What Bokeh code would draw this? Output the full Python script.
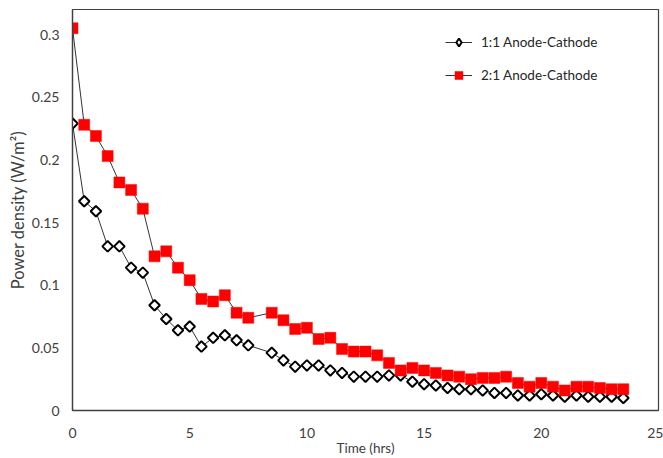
from bokeh.plotting import figure
from bokeh.models import Range1d, FixedTicker, Legend, LegendItem
from bokeh.embed import file_html
from bokeh.resources import INLINE

# ---- data ----
time_hrs = [0, 0.5, 1, 1.5, 2, 2.5, 3, 3.5, 4, 4.5, 5, 5.5, 6, 6.5, 7, 7.5,
            8.5, 9, 9.5, 10, 10.5, 11, 11.5, 12, 12.5, 13, 13.5, 14, 14.5,
            15, 15.5, 16, 16.5, 17, 17.5, 18, 18.5, 19, 19.5, 20, 20.5, 21,
            21.5, 22, 22.5, 23, 23.5]

ratio_1_1 = [0.229, 0.167, 0.159, 0.131, 0.131, 0.114, 0.110, 0.084, 0.073,
             0.064, 0.067, 0.051, 0.058, 0.060, 0.056, 0.052,
             0.046, 0.040, 0.035, 0.036, 0.036, 0.032, 0.030, 0.027, 0.027,
             0.027, 0.028, 0.028, 0.023, 0.021, 0.020, 0.018, 0.017, 0.017,
             0.016, 0.014, 0.014, 0.012, 0.012, 0.013, 0.012, 0.011, 0.012,
             0.011, 0.011, 0.011, 0.010]

ratio_2_1 = [0.305, 0.228, 0.219, 0.203, 0.182, 0.176, 0.161, 0.123, 0.127,
             0.114, 0.104, 0.089, 0.087, 0.092, 0.078, 0.074,
             0.078, 0.072, 0.065, 0.066, 0.057, 0.058, 0.049, 0.047, 0.047,
             0.044, 0.038, 0.032, 0.034, 0.032, 0.030, 0.028, 0.027, 0.025,
             0.026, 0.026, 0.027, 0.022, 0.019, 0.022, 0.019, 0.016, 0.019,
             0.019, 0.018, 0.017, 0.017]

series_labels = ["1:1 Anode-Cathode", "2:1 Anode-Cathode"]
x_ticks = [0, 5, 10, 15, 20, 25]
y_ticks = [0, 0.05, 0.1, 0.15, 0.2, 0.25, 0.3]
y_tick_labels = {0: "0", 0.05: "0.05", 0.1: "0.1", 0.15: "0.15",
                 0.2: "0.2", 0.25: "0.25", 0.3: "0.3"}
x_title = "Time (hrs)"
y_title = "Power density (W/m\u00b2)"

FONT = "Lato"
TXT = "#404040"

p = figure(width=663, height=458, output_backend="svg", toolbar_location=None,
           x_range=Range1d(0, 25), y_range=Range1d(0, 0.32),
           min_border_left=72, min_border_right=5, min_border_top=9,
           min_border_bottom=48)

p.xgrid.visible = False
p.ygrid.visible = False
p.outline_line_color = "#404040"
p.outline_line_width = 1.2
p.background_fill_color = "white"
p.border_fill_color = "white"

for ax in (p.xaxis[0], p.yaxis[0]):
    ax.major_tick_out = 0
    ax.major_tick_in = 0
    ax.minor_tick_out = 0
    ax.minor_tick_in = 0
    ax.axis_line_color = "#404040"
    ax.axis_line_width = 1.3
    ax.major_label_text_font = FONT
    ax.major_label_text_font_size = "14px"
    ax.major_label_text_color = TXT
    ax.axis_label_text_font = FONT
    ax.axis_label_text_font_style = "normal"
    ax.axis_label_text_color = TXT

p.xaxis.ticker = FixedTicker(ticks=x_ticks)
p.yaxis.ticker = FixedTicker(ticks=y_ticks)
p.yaxis.major_label_overrides = y_tick_labels
p.xaxis.major_label_standoff = 17
p.yaxis.major_label_standoff = 13
p.xaxis.axis_label = x_title
p.xaxis.axis_label_text_font_size = "13.5px"
p.xaxis.axis_label_standoff = -1
p.yaxis.axis_label = y_title
p.yaxis.axis_label_text_font_size = "16.5px"
p.yaxis.axis_label_standoff = 1

l1 = p.line(time_hrs, ratio_1_1, line_color="#333333", line_width=1)
s1 = p.scatter(time_hrs, ratio_1_1, marker="square", size=7.5, angle=0.785398,
               fill_color="white", line_color="black", line_width=2)
l2 = p.line(time_hrs, ratio_2_1, line_color="#333333", line_width=1)
s2 = p.scatter(time_hrs, ratio_2_1, marker="square", size=11,
               fill_color="#FF0000", line_color="#FF0000", line_width=0.5)

# legend-only key glyph (legend markers are never rotated, so use a diamond)
nan = float("nan")
s1_key = p.scatter([nan], [nan], marker="diamond", size=8,
                   fill_color="white", line_color="black", line_width=2)

legend = Legend(items=[LegendItem(label=series_labels[0], renderers=[l1, s1_key]),
                       LegendItem(label=series_labels[1], renderers=[l2, s2])],
                location=(373, 325), border_line_color=None,
                background_fill_alpha=0, padding=0, margin=0, spacing=13,
                glyph_width=27, glyph_height=20, label_height=20,
                label_standoff=9, label_text_font=FONT,
                label_text_font_size="13.5px", label_text_color="#262626")
p.add_layout(legend)

open("out.html", "w").write(file_html(p, INLINE))
